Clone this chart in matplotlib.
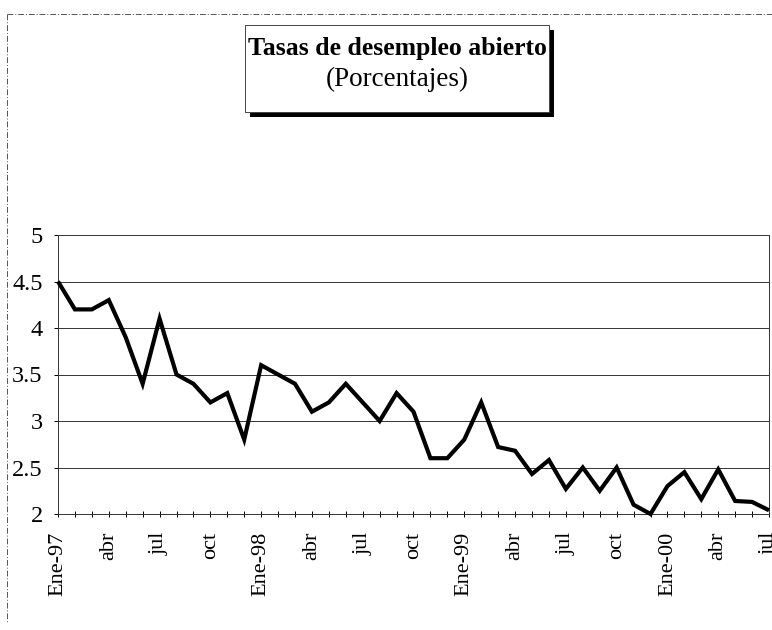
import matplotlib
matplotlib.use("Agg")
import matplotlib.pyplot as plt
from matplotlib.lines import Line2D
from matplotlib.patches import Rectangle

# ---- data ----
tasa = [4.5, 4.2, 4.2, 4.3, 3.9, 3.4, 4.1, 3.5, 3.4, 3.2, 3.3, 2.8,
        3.6, 3.5, 3.4, 3.1, 3.2, 3.4, 3.2, 3.0, 3.3, 3.1, 2.6, 2.6,
        2.8, 3.2, 2.72, 2.68, 2.43, 2.58, 2.27, 2.5, 2.25, 2.5, 2.1, 2.0,
        2.3, 2.45, 2.16, 2.48, 2.14, 2.13, 2.04]
tick_labels = ["Ene-97", "abr", "jul", "oct", "Ene-98", "abr", "jul", "oct",
               "Ene-99", "abr", "jul", "oct", "Ene-00", "abr", "jul"]
y_ticks = [2, 2.5, 3, 3.5, 4, 4.5, 5]
y_labels = ["2", "2.5", "3", "3.5", "4", "4.5", "5"]
titulo = "Tasas de desempleo abierto"
subtitulo = "(Porcentajes)"

plt.rcParams['font.family'] = ['Liberation Serif', 'DejaVu Serif']

W, H = 772, 630
fig = plt.figure(figsize=(W / 100, H / 100), dpi=100)

def fx(px):
    return px / W

def fy(py):
    return 1 - py / H

# outer (scanned) frame: left and top borders
fig.add_artist(Line2D([fx(7), fx(7)], [fy(14), fy(622)], color="#555555",
                      lw=0.7, ls=(0, (6, 2, 1, 2))))
fig.add_artist(Line2D([fx(7), fx(772)], [fy(14), fy(14)], color="#555555",
                      lw=0.7, ls=(0, (6, 2, 1, 2))))

ax = fig.add_axes([fx(58), fy(514), fx(769) - fx(58), fy(235) - fy(514)])
x = list(range(len(tasa)))
ax.plot(x, tasa, color="black", lw=3.0, solid_joinstyle="miter",
        solid_capstyle="butt", zorder=3, clip_on=False)

ax.set_xlim(0, len(tasa) - 1)
ax.set_ylim(2, 5)
ax.set_yticks(y_ticks)
ax.set_yticklabels(y_labels, fontsize=17.5)
ax.set_xticks(list(range(0, len(tasa), 3)))
ax.set_xticklabels(tick_labels, rotation=90, fontsize=16)
ax.set_xticks(list(range(len(tasa))), minor=True)

ax.tick_params(axis="y", length=3, width=0.7, pad=8, direction="out")
ax.tick_params(axis="x", which="both", length=4, width=0.7, pad=11,
               direction="inout")

for v in y_ticks[1:]:
    ax.axhline(v, color="#333333", lw=0.7, zorder=1)

for s in ["left", "bottom", "right"]:
    ax.spines[s].set_color("#333333")
    ax.spines[s].set_linewidth(0.7)
ax.spines["top"].set_visible(False)

# title box with shadow
bx0, by0, bx1, by1 = 245, 25, 549, 112
sh = 5
fig.add_artist(Rectangle((fx(bx0 + sh), fy(by1 + sh)), fx(bx1) - fx(bx0),
                         fy(by0) - fy(by1), transform=fig.transFigure,
                         facecolor="black", edgecolor="black", lw=0))
fig.add_artist(Rectangle((fx(bx0), fy(by1)), fx(bx1) - fx(bx0),
                         fy(by0) - fy(by1), transform=fig.transFigure,
                         facecolor="white", edgecolor="#444444", lw=0.7))
fig.text(fx(397), fy(49), titulo, ha="center", va="center", fontsize=18.5,
         fontweight="bold")
fig.text(fx(397), fy(79), subtitulo, ha="center", va="center", fontsize=19.5)

fig.savefig("out.png", dpi=100, facecolor="white")
